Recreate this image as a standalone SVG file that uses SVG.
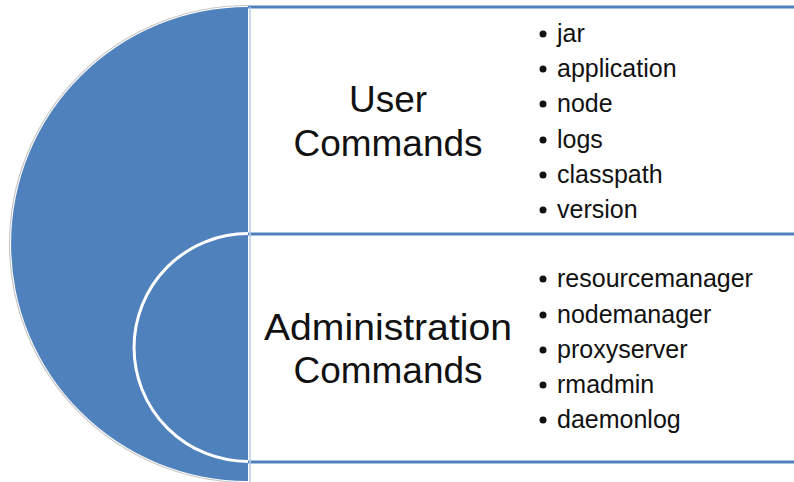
<svg xmlns="http://www.w3.org/2000/svg" width="794" height="482" viewBox="0 0 794 482">
<style>
.band{fill:none;stroke:#4F81BD;stroke-width:3}
.title{font-family:"Liberation Sans",Arial,sans-serif;font-size:37px;fill:#111;text-anchor:middle}
.item{font-family:"Liberation Sans",Arial,sans-serif;font-size:25px;fill:#111}
.dot{fill:#111}
</style>
<rect width="794" height="482" fill="#fff"/>
<g id="connectors">
<line class="band" x1="248" y1="7" x2="794" y2="7"/>
<line class="band" x1="248" y1="234" x2="794" y2="234"/>
<line class="band" x1="248" y1="462" x2="794" y2="462"/>
<line x1="250" y1="7" x2="250" y2="482" stroke="#B8CCE4" stroke-width="1.5"/>
</g>
<g id="outer-disc">
<path d="M248,5.5 A238.5,238.5 0 0 0 248,482.5" fill="none" stroke="#C8C8C8" stroke-width="1.2"/>
<path d="M248,7 A237,237 0 0 0 248,481 Z" fill="#4F81BD"/>
</g>
<g id="inner-arc">
<path d="M248,233.5 A114,114 0 0 0 248,461.5" fill="none" stroke="#fff" stroke-width="3"/>
</g>
<g id="user-commands">
<text class="title" x="388" y="112">User</text>
<text class="title" x="388" y="156">Commands</text>
<circle class="dot" cx="543" cy="34" r="3.5"/><text class="item" x="557" y="42">jar</text>
<circle class="dot" cx="543" cy="69" r="3.5"/><text class="item" x="557" y="77">application</text>
<circle class="dot" cx="543" cy="104" r="3.5"/><text class="item" x="557" y="112">node</text>
<circle class="dot" cx="543" cy="140" r="3.5"/><text class="item" x="557" y="148">logs</text>
<circle class="dot" cx="543" cy="175" r="3.5"/><text class="item" x="557" y="183">classpath</text>
<circle class="dot" cx="543" cy="210" r="3.5"/><text class="item" x="557" y="218">version</text>
</g>
<g id="admin-commands">
<text class="title" x="388" y="340" textLength="248" lengthAdjust="spacingAndGlyphs">Administration</text>
<text class="title" x="388" y="383">Commands</text>
<circle class="dot" cx="543" cy="279" r="3.5"/><text class="item" x="557" y="287">resourcemanager</text>
<circle class="dot" cx="543" cy="315" r="3.5"/><text class="item" x="557" y="323">nodemanager</text>
<circle class="dot" cx="543" cy="350" r="3.5"/><text class="item" x="557" y="358">proxyserver</text>
<circle class="dot" cx="543" cy="385" r="3.5"/><text class="item" x="557" y="393">rmadmin</text>
<circle class="dot" cx="543" cy="420" r="3.5"/><text class="item" x="557" y="428">daemonlog</text>
</g>
</svg>
